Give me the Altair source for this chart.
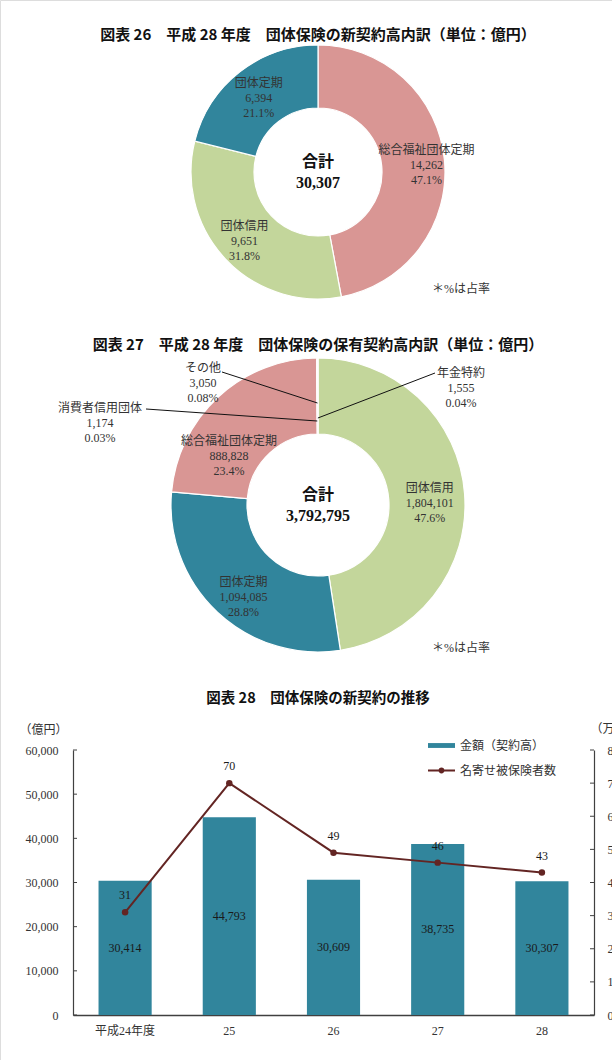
import math
import altair as alt
import pandas as pd

# ---------------- data ----------------
new_cats = ["総合福祉団体定期", "団体信用", "団体定期"]
new_vals = [14262, 9651, 6394]
new_pcts = ["47.1%", "31.8%", "21.1%"]
new_total = "30,307"

hold_cats = ["団体信用", "団体定期", "総合福祉団体定期", "消費者信用団体", "その他", "年金特約"]
hold_vals = [1804101, 1094085, 888828, 1174, 3050, 1555]
hold_pcts = ["47.6%", "28.8%", "23.4%", "0.03%", "0.08%", "0.04%"]
hold_total = "3,792,795"

years = ["平成24年度", "25", "26", "27", "28"]
amounts = [30414, 44793, 30609, 38735, 30307]
insured = [31, 70, 49, 46, 43]
amount_ticks = [0, 10000, 20000, 30000, 40000, 50000, 60000]
insured_ticks = [0, 10, 20, 30, 40, 50, 60, 70, 80]

title26 = "図表 26　平成 28 年度　団体保険の新契約高内訳（単位：億円）"
title27 = "図表 27　平成 28 年度　団体保険の保有契約高内訳（単位：億円）"
title28 = "図表 28　団体保険の新契約の推移"
note = "＊%は占率"
total_word = "合計"
bar_series = "金額（契約高）"
line_series = "名寄せ被保険者数"
left_unit = "（億円）"
right_unit = "（万人）"

# ---------------- styles / layout ----------------
W, H = 612, 1060
PINK, GREEN, TEAL, LINE = "#D99694", "#C3D69B", "#31859C", "#632523"
AXIS = "#404040"
TXT = "#333333"
SERIF = "Liberation Serif, Noto Sans CJK JP"
SANS = "Noto Sans CJK JP"
cat_colors = {"総合福祉団体定期": PINK, "団体信用": GREEN, "団体定期": TEAL,
              "消費者信用団体": PINK, "その他": PINK, "年金特約": PINK}

LH = 15  # label line height
D1 = dict(cx=318, cy=172, R=127, r=64, rl=101,
          nudge={"総合福祉団体定期": (8, 2), "団体定期": (3, 6)})
D2 = dict(cx=318, cy=505, R=147, r=71, rl=112,
          nudge={"団体信用": (0, 7), "団体定期": (2, 10), "総合福祉団体定期": (-13, 33)})
# outside labels of tiny slices in donut 2: label centre, leader start, leader inner radius
outside = {
    "その他": ((203, 383), (222, 372), 102),
    "消費者信用団体": ((100, 423), (146, 409), 84),
    "年金特約": ((461, 388), (435, 373), 87),
}
X0, X1 = 73, 594
Y0, Y1 = 1015, 750


def txt(t, x, y, **kw):
    return alt.Chart(pd.DataFrame({"t": [t]})).mark_text(**kw).encode(
        text="t:N", x=alt.value(x), y=alt.value(y))


def donut(cats, vals, pcts, total, g, min_share):
    tot = sum(vals)
    full = [f"{c}\n{v:,}\n{p}" if v / tot >= min_share else "" for c, v, p in zip(cats, vals, pcts)]
    df = pd.DataFrame({"cat": cats, "val": vals, "k": list(range(len(cats)))})
    base = alt.Chart(df).encode(
        theta=alt.Theta("val:Q", stack=True),
        order=alt.Order("k:Q"),
    )
    arc = base.mark_arc(innerRadius=g["r"], outerRadius=g["R"], stroke="white", strokeWidth=1.2).encode(
        color=alt.Color("cat:N", scale=alt.Scale(domain=list(cat_colors.keys()),
                                                 range=list(cat_colors.values())), legend=None),
        x=alt.value(g["cx"]), y=alt.value(g["cy"]))
    layers = [arc]
    # one label layer per label so that each can get its own small nudge
    for i, c in enumerate(cats):
        if not full[i]:
            continue
        ndx, ndy = g["nudge"].get(c, (0, 0))
        lab = [full[j] if j == i else "" for j in range(len(cats))]
        ldf = df.assign(label=lab)
        layers.append(
            alt.Chart(ldf).mark_text(radius=g["rl"], lineBreak="\n", font=SERIF, fontSize=12,
                                     lineHeight=LH, color=TXT, align="center", baseline="middle",
                                     dx=ndx, dy=ndy - LH).encode(
                theta=alt.Theta("val:Q", stack=True), order=alt.Order("k:Q"),
                text="label:N", x=alt.value(g["cx"]), y=alt.value(g["cy"])))
    layers.append(txt(f"{total_word}\n{total}", g["cx"], g["cy"], lineBreak="\n", font=SERIF,
                      fontSize=16, fontWeight="bold", lineHeight=21, dy=-10, color="#111111",
                      align="center", baseline="middle"))
    return alt.layer(*layers)


d1 = donut(new_cats, new_vals, new_pcts, new_total, D1, 0.01)
d2 = donut(hold_cats, hold_vals, hold_pcts, hold_total, D2, 0.01)

# outside labels + leader lines for tiny slices
tot2 = sum(hold_vals)
cum = 0
rows_l, rows_t = [], []
for c, v, p in zip(hold_cats, hold_vals, hold_pcts):
    mid = (cum + v / 2) / tot2
    cum += v
    if c in outside:
        (lx, ly), (sx, sy), rr = outside[c]
        ang = 2 * math.pi * mid
        ex = D2["cx"] + rr * math.sin(ang)
        ey = D2["cy"] - rr * math.cos(ang)
        rows_l.append({"x0": sx, "y0": sy, "x1": ex, "y1": ey})
        rows_t.append({"x": lx, "y": ly, "t": f"{c}\n{v:,}\n{p}"})
leaders = alt.Chart(pd.DataFrame(rows_l)).mark_rule(color="#111111", strokeWidth=1).encode(
    x=alt.X("x0:Q", scale=None, axis=None), y=alt.Y("y0:Q", scale=None, axis=None),
    x2="x1:Q", y2="y1:Q")
out_lbls = alt.Chart(pd.DataFrame(rows_t)).mark_text(
    lineBreak="\n", font=SERIF, fontSize=12, lineHeight=LH, color=TXT, align="center",
    baseline="middle", dy=-LH).encode(
    x=alt.X("x:Q", scale=None, axis=None), y=alt.Y("y:Q", scale=None, axis=None), text="t:N")

# ---------------- combo bar + line ----------------
x_enc = alt.X("year:N", sort=years,
              scale=alt.Scale(range=[X0, X1], paddingInner=0.49, paddingOuter=0.245),
              axis=alt.Axis(title=None, orient="bottom", offset=-(H - Y0), labelAngle=0, ticks=False,
                            domainColor=AXIS, domainWidth=1.5, labelFont=SERIF, labelFontSize=12,
                            labelColor=TXT, labelPadding=10, grid=False))
yL_scale = alt.Scale(domain=[0, 60000], range=[Y0, Y1], nice=False)
yL_axis = alt.Axis(title=left_unit, orient="left", offset=-X0, values=amount_ticks, format=",d",
                   ticks=False, domainColor=AXIS, domainWidth=1.2, labelFont=SERIF, labelFontSize=12,
                   labelColor=TXT, labelPadding=15, grid=False, titleAngle=0, titleX=43 - X0,
                   titleY=729, titleAlign="center", titleBaseline="middle", titleFont=SERIF,
                   titleFontSize=12, titleFontWeight="normal", titleColor=TXT)
yR_scale = alt.Scale(domain=[0, 80], range=[Y0, Y1], nice=False)
yR_axis = alt.Axis(title=right_unit, orient="right", offset=-(W - X1), values=insured_ticks,
                   ticks=False, domainColor=AXIS, domainWidth=1.2, labelFont=SERIF, labelFontSize=12,
                   labelColor=TXT, labelPadding=13, labelAlign="left", grid=False, titleAngle=0,
                   titleX=590 - X1, titleY=728, titleAlign="left", titleBaseline="middle",
                   titleFont=SERIF, titleFontSize=12, titleFontWeight="normal", titleColor=TXT)

bar_df = pd.DataFrame({"year": years, "amount": amounts, "series": [bar_series] * len(years)})
line_df = pd.DataFrame({"year": years, "insured": insured, "series": [line_series] * len(years)})

BAR_SYM = "M-1,-0.18H1V0.18H-1Z"
LINE_SYM = ("M-1,-0.075H-0.2V0.075H-1Z M0.2,-0.075H1V0.075H0.2Z "
            "M0.22,0A0.22,0.22,0,1,1,-0.22,0A0.22,0.22,0,1,1,0.22,0Z")

bars = alt.Chart(bar_df).mark_bar().encode(
    x=x_enc, y=alt.Y("amount:Q", scale=yL_scale, axis=yL_axis),
    fill=alt.Fill("series:N", scale=alt.Scale(domain=[bar_series], range=[TEAL]),
                  legend=alt.Legend(title=None, orient="none", legendX=428, legendY=732, padding=0,
                                    symbolType=BAR_SYM, symbolSize=729, symbolStrokeWidth=0,
                                    labelFont=SERIF, labelFontSize=12, labelColor=TXT, labelOffset=5)))
bar_txt = alt.Chart(bar_df).transform_calculate(mid="datum.amount / 2").mark_text(
    font=SERIF, fontSize=12, color="#1a1a1a", baseline="middle").encode(
    x=x_enc, y=alt.Y("mid:Q", scale=yL_scale, axis=yL_axis),
    text=alt.Text("amount:Q", format=",d"))
lticks = alt.Chart(pd.DataFrame({"v": amount_ticks})).mark_rule(color=AXIS, strokeWidth=1).encode(
    y=alt.Y("v:Q", scale=yL_scale, axis=yL_axis), x=alt.value(X0), x2=alt.value(X0 + 4))
left_layer = alt.layer(bars, bar_txt, lticks)

yR = alt.Y("insured:Q", scale=yR_scale, axis=yR_axis)
line = alt.Chart(line_df).mark_line(color=LINE, strokeWidth=2).encode(x=x_enc, y=yR)
pts = alt.Chart(line_df).mark_point(filled=True, size=42, opacity=1).encode(
    x=x_enc, y=yR,
    fill=alt.Fill("series:N", scale=alt.Scale(domain=[line_series], range=[LINE]),
                  legend=alt.Legend(title=None, orient="none", legendX=428, legendY=757, padding=0,
                                    symbolType=LINE_SYM, symbolSize=729, symbolStrokeWidth=0,
                                    labelFont=SERIF, labelFontSize=12, labelColor=TXT, labelOffset=5)))
pt_txt = alt.Chart(line_df).mark_text(font=SERIF, fontSize=12, color="#1a1a1a", dy=-17,
                                      baseline="middle").encode(
    x=x_enc, y=yR, text=alt.Text("insured:Q", format="d"))
rticks = alt.Chart(pd.DataFrame({"v": insured_ticks})).mark_rule(color=AXIS, strokeWidth=1).encode(
    y=alt.Y("v:Q", scale=yR_scale, axis=yR_axis), x=alt.value(X1 - 4), x2=alt.value(X1))
right_layer = alt.layer(line, pts, pt_txt, rticks)

combo = alt.layer(left_layer, right_layer).resolve_scale(y="independent", fill="independent")

# ---------------- titles / notes ----------------
tkw = dict(font=SANS, fontWeight="bold", color="#111111", align="center", baseline="middle")
t26 = txt(title26, 318, 35, fontSize=15, **tkw)
t27 = txt(title27, 318, 345, fontSize=15, **tkw)
t28 = txt(title28, 318, 699, fontSize=14.5, **tkw)
nkw = dict(font=SERIF, fontSize=12, color=TXT, align="center", baseline="middle")
n1 = txt(note, 461, 289, **nkw)
n2 = txt(note, 461, 648, **nkw)

chart = alt.layer(d1, d2, out_lbls, leaders, combo, t26, t27, t28, n1, n2).resolve_scale(
    theta="independent", color="independent", x="independent", y="independent"
).properties(
    width=W, height=H, padding=0, autosize=alt.AutoSizeParams(type="none")
).configure_view(stroke=None).configure(background="white")

chart.save("out.html", embed_options={"renderer": "svg", "actions": False})
